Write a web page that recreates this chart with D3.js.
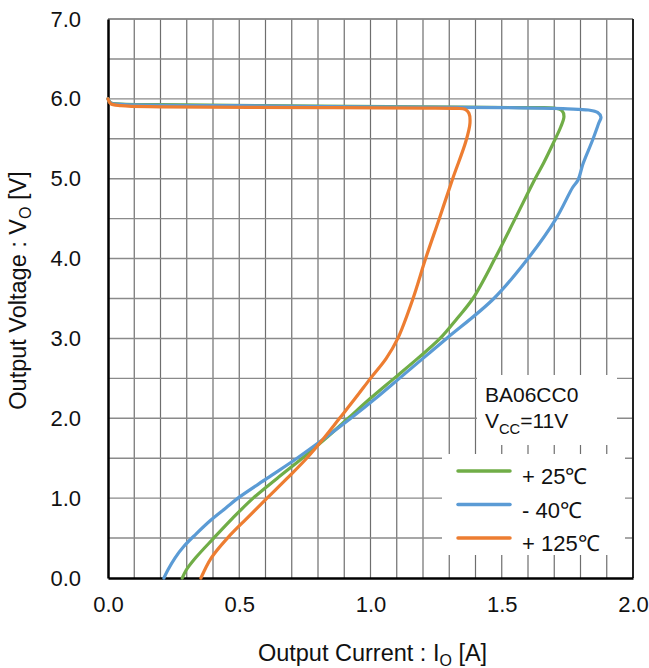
<!DOCTYPE html>
<html>
<head>
<meta charset="utf-8">
<script src="https://cdn.jsdelivr.net/npm/d3@7"></script>
<style>
  body { margin: 0; background: #fff; }
  svg { display: block; font-family: "Liberation Sans", Arial, sans-serif; }
</style>
</head>
<body>
<svg id="chart" width="649" height="668"></svg>
<script>
// ---- data (Output current I [A], Output voltage V [V]) ----
const seriesNames = ["+ 25\u2103", "- 40\u2103", "+ 125\u2103"];
const seriesColors = ["#70ad47", "#5b9bd5", "#ed7d31"];

const green25 = [
  [0.0, 6.00], [0.01, 5.95], [0.05, 5.935], [0.3, 5.925], [0.8, 5.91], [1.2, 5.9],
  [1.6, 5.89], [1.70, 5.885], [1.73, 5.85], [1.737, 5.78], [1.725, 5.65], [1.697, 5.45],
  [1.66, 5.2], [1.627, 5.0], [1.551, 4.5], [1.474, 4.0], [1.39, 3.5], [1.33, 3.25],
  [1.265, 3.0], [1.18, 2.75], [1.09, 2.5], [1.0, 2.25], [0.915, 2.0], [0.83, 1.75],
  [0.74, 1.5], [0.645, 1.25], [0.553, 1.0], [0.475, 0.75], [0.403, 0.5], [0.333, 0.25],
  [0.298, 0.1], [0.283, 0.0]
];
const blue40 = [
  [0.0, 6.00], [0.01, 5.95], [0.05, 5.93], [0.5, 5.915], [1.0, 5.9], [1.5, 5.89],
  [1.75, 5.875], [1.83, 5.86], [1.865, 5.83], [1.878, 5.77], [1.87, 5.7], [1.845, 5.475],
  [1.81, 5.19], [1.79, 4.98], [1.77, 4.89], [1.707, 4.5], [1.60, 4.0], [1.47, 3.5],
  [1.29, 3.0], [1.2, 2.75], [1.11, 2.5], [1.02, 2.25], [0.925, 2.0], [0.825, 1.75],
  [0.72, 1.5], [0.607, 1.25], [0.495, 1.0], [0.45, 0.88], [0.39, 0.72], [0.335, 0.55],
  [0.29, 0.4], [0.255, 0.25], [0.228, 0.1], [0.213, 0.0]
];
const orange125 = [
  [0.0, 6.00], [0.01, 5.94], [0.05, 5.915], [0.2, 5.9], [0.8, 5.89], [1.2, 5.885],
  [1.33, 5.88], [1.36, 5.87], [1.375, 5.82], [1.379, 5.7], [1.364, 5.475], [1.313, 5.0],
  [1.262, 4.5], [1.21, 4.0], [1.162, 3.5], [1.104, 3.0], [1.06, 2.75], [1.0, 2.5],
  [0.942, 2.25], [0.882, 2.0], [0.822, 1.75], [0.757, 1.5], [0.683, 1.25], [0.606, 1.0],
  [0.53, 0.75], [0.455, 0.5], [0.393, 0.25], [0.354, 0.0]
];
const seriesData = [green25, blue40, orange125];

const xTicks = [0, 0.5, 1.0, 1.5, 2.0];
const yTicks = [0, 1, 2, 3, 4, 5, 6, 7];
const xGrid = d3.range(1, 20).map(i => i / 10);
const yGrid = d3.range(1, 15).map(i => i / 2);

const xTitle = "Output Current : I";
const xTitleSub = "O";
const xTitleEnd = " [A]";
const yTitle = "Output Voltage : V";
const yTitleSub = "O";
const yTitleEnd = " [V]";
const noteLine1 = "BA06CC0";
const noteLine2a = "V";
const noteLine2Sub = "CC";
const noteLine2b = "=11V";

// ---- layout ----
const L = 108, R = 633, T = 19, B = 578;
const svg = d3.select("#chart");
const x = d3.scaleLinear().domain([0, 2]).range([L, R]);
const y = d3.scaleLinear().domain([0, 7]).range([B, T]);
const FS_TICK = 22, FS_TITLE = 23.5, FS_NOTE = 21, FS_LEG = 22;

// grid
const g = svg.append("g");
g.selectAll(".vg").data(xGrid).enter().append("line")
  .attr("x1", d => x(d)).attr("x2", d => x(d)).attr("y1", T).attr("y2", B)
  .attr("stroke", "#6e6e6e").attr("stroke-width", 1.2);
g.selectAll(".hg").data(yGrid).enter().append("line")
  .attr("x1", L).attr("x2", R).attr("y1", d => y(d)).attr("y2", d => y(d))
  .attr("stroke", "#8a8a8a").attr("stroke-width", 1.4);
// top border
g.append("line").attr("x1", L).attr("x2", R).attr("y1", y(7)).attr("y2", y(7))
  .attr("stroke", "#8a8a8a").attr("stroke-width", 1.6);
// right border
g.append("line").attr("x1", x(2)).attr("x2", x(2)).attr("y1", T).attr("y2", B)
  .attr("stroke", "#222").attr("stroke-width", 2);

// axes (D3 axes, styled)
const xAxis = svg.append("g").attr("transform", `translate(0,${B})`)
  .call(d3.axisBottom(x).tickValues(xTicks).tickSize(0).tickPadding(18).tickFormat(d3.format(".1f")));
const yAxis = svg.append("g").attr("transform", `translate(${L},0)`)
  .call(d3.axisLeft(y).tickValues(yTicks).tickSize(0).tickPadding(27).tickFormat(d3.format(".1f")));
[xAxis, yAxis].forEach(a => {
  a.select(".domain").attr("stroke", "#000").attr("stroke-width", 2.5);
  a.selectAll("text").attr("font-size", FS_TICK).attr("fill", "#111")
    .attr("font-family", "Liberation Sans, Arial, sans-serif");
});

// lines
const lineGen = d3.line().x(d => x(d[0])).y(d => y(d[1])).curve(d3.curveCatmullRom.alpha(0.5));
svg.append("g").selectAll("path").data(seriesData).enter().append("path")
  .attr("d", d => lineGen(d))
  .attr("fill", "none")
  .attr("stroke", (d, i) => seriesColors[i])
  .attr("stroke-width", 3.2)
  .attr("stroke-linejoin", "round").attr("stroke-linecap", "round");

// note box
svg.append("rect").attr("x", 477).attr("y", 375).attr("width", 140).attr("height", 70).attr("fill", "#fff");
svg.append("text").attr("x", 485).attr("y", 402).attr("font-size", FS_NOTE).attr("fill", "#111").text(noteLine1);
const t2 = svg.append("text").attr("x", 485).attr("y", 428).attr("font-size", FS_NOTE).attr("fill", "#111");
t2.append("tspan").text(noteLine2a);
t2.append("tspan").attr("font-size", FS_NOTE * 0.7).attr("dy", 6).text(noteLine2Sub);
t2.append("tspan").attr("dy", -6).text(noteLine2b);

// legend
svg.append("rect").attr("x", 442).attr("y", 454).attr("width", 183).attr("height", 101).attr("fill", "#fff");
const lg = svg.append("g").selectAll("g").data(seriesNames).enter().append("g")
  .attr("transform", (d, i) => `translate(0,${471 + i * 33.5})`);
lg.append("line").attr("x1", 458).attr("x2", 510).attr("y1", 0).attr("y2", 0)
  .attr("stroke", (d, i) => seriesColors[i]).attr("stroke-width", 3.5).attr("stroke-linecap", "round");
lg.append("text").attr("x", 522).attr("y", 13).attr("font-size", FS_LEG).attr("fill", "#111").text(d => d);

// axis titles
const xt = svg.append("text").attr("x", (L + R) / 2 + 2).attr("y", 661).attr("text-anchor", "middle")
  .attr("font-size", FS_TITLE).attr("fill", "#111");
xt.append("tspan").text(xTitle);
xt.append("tspan").attr("font-size", FS_TITLE * 0.68).attr("dy", 5).text(xTitleSub);
xt.append("tspan").attr("dy", -5).text(xTitleEnd);

const yt = svg.append("text").attr("transform", `translate(26,${(T + B) / 2 - 8}) rotate(-90)`)
  .attr("text-anchor", "middle").attr("font-size", FS_TITLE).attr("fill", "#111");
yt.append("tspan").text(yTitle);
yt.append("tspan").attr("font-size", FS_TITLE * 0.68).attr("dy", 5).text(yTitleSub);
yt.append("tspan").attr("dy", -5).text(yTitleEnd);
</script>
</body>
</html>
